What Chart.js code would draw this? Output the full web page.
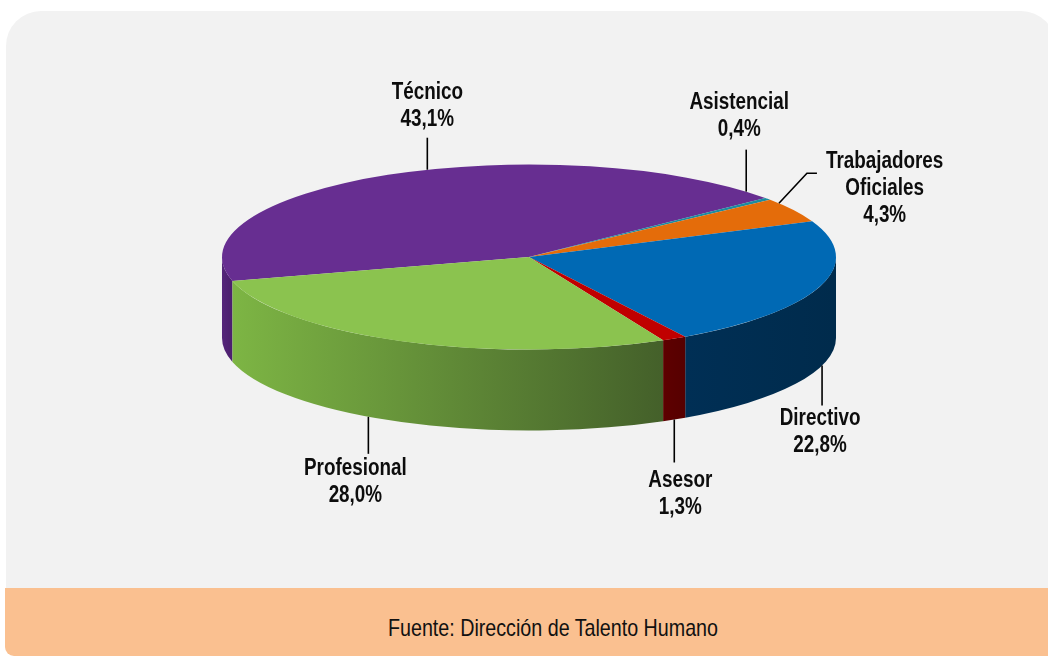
<!DOCTYPE html>
<html><head><meta charset="utf-8">
<script src="https://cdn.jsdelivr.net/npm/chart.js@4.4.1/dist/chart.umd.min.js"></script>
<style>
html,body{margin:0;padding:0;background:#fff;width:1048px;height:658px;overflow:hidden;position:relative}
#panel{position:absolute;left:6px;top:11px;width:1050px;height:600px;background:#f2f2f2;border-radius:35px 35px 0 0}
#footer{position:absolute;left:5px;top:588px;width:1060px;height:68px;background:#fac090;border-radius:0 0 0 9px}
#src{position:absolute;left:303px;top:614px;width:500px;text-align:center;font-size:24px;color:#111;white-space:nowrap;font-family:"Liberation Sans Narrow","Arial Narrow",sans-serif}
#src.wide{font-family:"Liberation Sans",Arial,sans-serif;transform:scaleX(0.82);transform-origin:50% 50%}
#c{position:absolute;left:0;top:0}
</style></head>
<body>
<div id="panel"></div>
<div id="footer"></div>
<div id="src">Fuente: Dirección de Talento Humano</div>
<canvas id="c" width="1048" height="658"></canvas>
<script>
// ---- data ----
const categories = ['Técnico', 'Asistencial', 'Trabajadores Oficiales', 'Directivo', 'Asesor', 'Profesional'];
const shares = [43.1, 0.4, 4.3, 22.8, 1.3, 28.0];
const shareLabels = ['43,1%', '0,4%', '4,3%', '22,8%', '1,3%', '28,0%'];

// ---- styles ----
const topColors = ['#672e91', '#1c8ca0', '#e46c0a', '#0069b4', '#c00000', '#8bc34f'];
const sideColors = [['#55257a', '#4b1f6c'], ['#135e6d', '#135e6d'], ['#a34d07', '#a34d07'],
                    ['#002f55', '#002b4c'], ['#5e0000', '#560000'], ['#7db544', '#44602a']];
const TILT = 0.3013, DEPTH = 81, ELLIPSE_CY = 257;
// label layout: angle nudge (deg), face, leader path, text placement
const labelLayout = [
  {nudge: 8,  face: 'top',    path: [[0, -32]],             place: 'above', gap: 18, dx: 0},
  {nudge: -6, face: 'top',    path: [[0, -42]],             place: 'above', gap: 20, dx: -7},
  {nudge: -5, face: 'top',    path: [[28, -30], [38, -30]], place: 'right', gap: 12, dx: 9},
  {nudge: -1, face: 'bottom', path: [[0, 40]],              place: 'below', gap: 13, dx: -2},
  {nudge: 0,  face: 'bottom', path: [[0, 43]],              place: 'below', gap: 18, dx: 6},
  {nudge: 7,  face: 'bottom', path: [[0, 37]],              place: 'below', gap: 15, dx: -13}
];
const LINE_H = 27;

// font detection (narrow font may be missing)
const mctx = document.createElement('canvas').getContext('2d');
mctx.font = 'bold 40px "Liberation Sans Narrow", monospace';
const wN = mctx.measureText('Técnico Humano').width;
mctx.font = 'bold 40px monospace';
const wM = mctx.measureText('Técnico Humano').width;
const hasNarrow = Math.abs(wN - wM) > 0.5;
if (!hasNarrow) document.getElementById('src').className = 'wide';
const SQ = hasNarrow ? 1 : 0.82;
const LABEL_FONT = hasNarrow ? 'bold 23px "Liberation Sans Narrow"' : 'bold 23px "Liberation Sans", Arial, sans-serif';

function textW(ctx, t) { ctx.font = LABEL_FONT; return ctx.measureText(t).width * SQ; }
function drawT(ctx, t, x, y) {
  ctx.save(); ctx.translate(x, y); ctx.scale(SQ, 1);
  ctx.font = LABEL_FONT; ctx.textAlign = 'center'; ctx.textBaseline = 'middle';
  ctx.fillStyle = '#0d0d0d'; ctx.fillText(t, 0, 0); ctx.restore();
}

const pie3d = {
  id: 'pie3d',
  beforeDatasetsDraw(chart) {
    const ctx = chart.ctx;
    const arcs = chart.getDatasetMeta(0).data;
    const cx = arcs[0].x, cy = arcs[0].y, r = arcs[0].outerRadius, ry = r * TILT;
    arcs.forEach((arc, i) => {
      for (let k = -1; k <= 3; k++) {
        const off = k * 2 * Math.PI;
        const lo = Math.max(arc.startAngle, off), hi = Math.min(arc.endAngle, off + Math.PI);
        if (hi <= lo) continue;
        const a = lo - off, b = hi - off;
        const x1 = cx + r * Math.cos(b), x2 = cx + r * Math.cos(a);
        const g = ctx.createLinearGradient(Math.min(x1, x2), 0, Math.max(x1, x2) + 0.01, 0);
        g.addColorStop(0, sideColors[i][0]); g.addColorStop(1, sideColors[i][1]);
        ctx.beginPath();
        ctx.ellipse(cx, ELLIPSE_CY, r, ry, 0, a, b, false);
        ctx.lineTo(cx + r * Math.cos(b), ELLIPSE_CY + ry * Math.sin(b) + DEPTH);
        ctx.ellipse(cx, ELLIPSE_CY + DEPTH, r, ry, 0, b, a, true);
        ctx.closePath();
        ctx.fillStyle = g; ctx.fill();
      }
    });
    ctx.save();
    ctx.translate(0, ELLIPSE_CY - cy * TILT);
    ctx.scale(1, TILT);
  },
  afterDatasetsDraw(chart) {
    const ctx = chart.ctx;
    ctx.restore();
    const arcs = chart.getDatasetMeta(0).data;
    const cx = arcs[0].x, r = arcs[0].outerRadius, ry = r * TILT;
    arcs.forEach((arc, i) => {
      const L = labelLayout[i];
      const th = (arc.startAngle + arc.endAngle) / 2 + L.nudge * Math.PI / 180;
      let x = cx + r * Math.cos(th), y = ELLIPSE_CY + ry * Math.sin(th) + (L.face === 'bottom' ? DEPTH : 0);
      ctx.beginPath(); ctx.moveTo(x, y);
      let ex = x, ey = y;
      L.path.forEach(p => { ex = x + p[0]; ey = y + p[1]; ctx.lineTo(ex, ey); });
      ctx.strokeStyle = '#000'; ctx.lineWidth = 1.6; ctx.stroke();
      const lines = (i === 2 ? categories[i].split(' ') : [categories[i]]).concat([shareLabels[i]]);
      if (L.place === 'above') {
        lines.forEach((t, j) => drawT(ctx, t, ex + L.dx, ey - L.gap - (lines.length - 1 - j) * LINE_H));
      } else if (L.place === 'below') {
        lines.forEach((t, j) => drawT(ctx, t, ex + L.dx, ey + L.gap + j * LINE_H));
      } else {
        const w = Math.max(...lines.map(t => textW(ctx, t)));
        lines.forEach((t, j) => drawT(ctx, t, ex + L.dx + w / 2, ey - L.gap + j * LINE_H));
      }
    });
  }
};

new Chart(document.getElementById('c'), {
  type: 'pie',
  data: {
    labels: categories,
    datasets: [{data: shares, backgroundColor: topColors, borderWidth: 0, clip: false}]
  },
  options: {
    responsive: false, animation: false, events: [],
    rotation: 255,
    layout: {padding: {left: 222, right: 212, top: 0, bottom: 44}},
    plugins: {legend: {display: false}, tooltip: {enabled: false}}
  },
  plugins: [pie3d]
});
</script>
</body></html>
